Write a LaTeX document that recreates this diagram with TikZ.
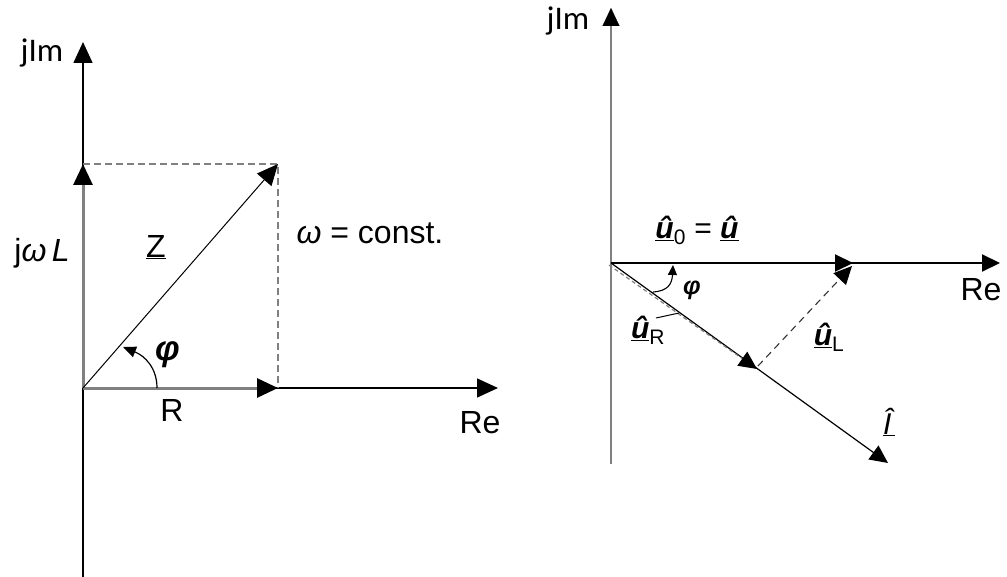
\documentclass[tikz,border=0pt]{standalone}
\usepackage{fontspec}
\setmainfont{Liberation Sans}
\newfontfamily\calib{Carlito}
\usetikzlibrary{arrows.meta}
\definecolor{axgray}{HTML}{808080}
\tikzset{
  lbl/.style={inner sep=0pt, font=\fontsize{32}{36}\selectfont},
  ulbl/.style={inner sep=0pt, font=\fontsize{30}{34}\selectfont},
  jlbl/.style={inner sep=0pt, font=\calib\fontsize{33}{36}\selectfont},
  bigtip/.style={-{Triangle[length=21pt,width=19pt,black]}},
  midtip/.style={-{Triangle[length=18pt,width=17pt,black]}},
  smalltip/.style={-{Triangle[length=13pt,width=11pt,black]}},
  tinytip/.style={-{Triangle[length=10pt,width=9pt,black]}},
  thinax/.style={black, line width=1.4pt},
  grayvec/.style={axgray, line width=3pt},
  graydash/.style={axgray, line width=1.5pt, dash pattern=on 7pt off 4pt},
}
\begin{document}
\begin{tikzpicture}[x=1pt,y=-1pt]
\useasboundingbox (0,0) rectangle (1007,577);
% ---------- left diagram ----------
\coordinate (O1) at (83,388);
\coordinate (Lbot) at (83,577);
\coordinate (Ltop) at (83,42);
\coordinate (Lre) at (498,388);
\coordinate (Rtip) at (278,388);
\coordinate (Ltip) at (83,164);
\coordinate (Ztip) at (278,164);
\draw[thinax, bigtip] (Lbot) -- (Ltop);
\draw[thinax, bigtip] (O1) -- (Lre);
\draw[graydash] (Ltip) -- (Ztip) -- (Rtip);
\draw[grayvec, bigtip] (O1) -- (Rtip);
\draw[grayvec, bigtip] (O1) -- (Ltip);
\draw[black, line width=1pt, bigtip] (O1) -- (Ztip);
\coordinate (phs) at (157,388);
\coordinate (phe) at (123,347);
\draw[black, line width=1.2pt, smalltip] (phs) .. controls (157,368) and (145,356) .. (phe);
\node[jlbl] (jim1) at (42,53) {jIm};
\node[lbl] (jwl) at (42,253) {j\textit{ω}\,\textit{L}};
\node[lbl] (zl) at (156,247) {\underline{Z}};
\node[lbl] (rl) at (172,410) {R};
\node[lbl] (re1) at (480,423) {Re};
\node[lbl] (wc) at (370,233) {\textit{ω} = const.};
\node[lbl, font=\fontsize{35}{38}\selectfont\bfseries\itshape] (phi1) at (168,355) {φ};
% ---------- right diagram ----------
\coordinate (O2) at (611,263);
\coordinate (Rbot) at (611,464);
\coordinate (Rtop) at (611,8);
\coordinate (Rtopb) at (611,25);
\coordinate (Rre) at (1000,263);
\coordinate (Utip) at (853,263);
\coordinate (Itip) at (888,463);
\coordinate (URtip) at (757,369);
\coordinate (URs) at (609,265);
\coordinate (ULs) at (758,366);
\coordinate (ULtip) at (852,266);
\draw[axgray, line width=2.4pt] (Rbot) -- (Rtopb);
\draw[black, line width=0.1pt, midtip] (Rtopb) -- (Rtop);
\draw[black, line width=2pt, midtip] (O2) -- (Rre);
\draw[black, line width=2pt, midtip] (O2) -- (Utip);
\draw[black, line width=1.2pt, midtip] (O2) -- (Itip);
\draw[axgray, line width=1.2pt, dash pattern=on 4pt off 3pt, midtip] (URs) -- (URtip);
\draw[black!80, line width=1.1pt, dash pattern=on 7pt off 5pt, midtip] (ULs) -- (ULtip);
\coordinate (p2s) at (653,292);
\coordinate (p2e) at (673,265);
\draw[black, line width=1.1pt, tinytip] (p2s) .. controls (668,291) and (672,284) .. (p2e);
\coordinate (lds) at (656,318);
\coordinate (lde) at (679,313);
\draw[black, line width=1pt] (lds) -- (lde);
\node[jlbl] (jim2) at (568,21) {jIm};
\node[lbl] (re2) at (981,290) {Re};
\node[ulbl] (u0) at (697,230) {\underline{\textbf{\textit{û}}}\textsubscript{0} = \underline{\textbf{\textit{û}}}};
\node[ulbl] (ur) at (648,330) {\underline{\textbf{\textit{û}}}\textsubscript{R}};
\node[ulbl] (ul) at (829,337) {\underline{\textbf{\textit{û}}}\textsubscript{L}};
\node[ulbl] (ii) at (889,422) {\underline{\textit{Î}}};
\node[lbl, font=\fontsize{25}{28}\selectfont\bfseries\itshape] (phi2) at (692,290) {φ};
\end{tikzpicture}
\end{document}
